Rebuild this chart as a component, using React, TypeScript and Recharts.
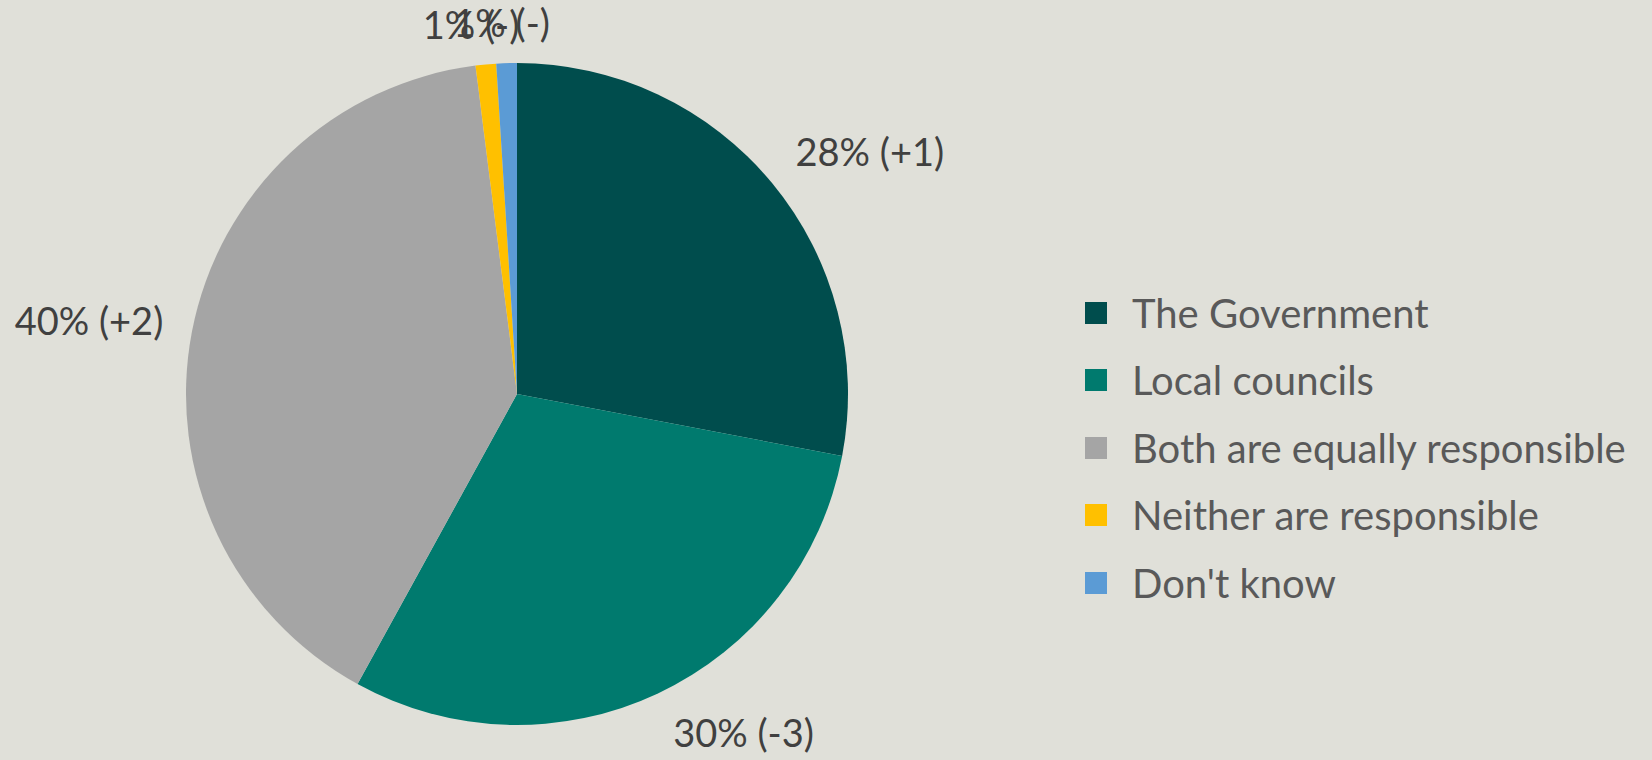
import React from 'react';
import { PieChart, Pie, Cell, Legend } from 'recharts';

const categories = ['The Government', 'Local councils', 'Both are equally responsible', 'Neither are responsible', "Don't know"];
const shares = [28, 30, 40, 1, 1];
const changes = ['+1', '-3', '+2', '-', '-'];
const colors = ['#004D4D', '#007A6E', '#A5A5A5', '#FFC000', '#5B9BD5'];

const data = categories.map((name, i) => ({ name, value: shares[i], change: changes[i] }));

const FONT = 'Lato, "Noto Sans", sans-serif';
const FONT_SIZE = 38;
const LEGEND_FONT_SIZE = 40;
const RAD = Math.PI / 180;

let ctx: CanvasRenderingContext2D | null = null;
const textWidth = (s: string) => {
    if (!ctx) ctx = document.createElement('canvas').getContext('2d');
    if (!ctx) return s.length * FONT_SIZE * 0.5;
    ctx.font = `${FONT_SIZE}px ${FONT}`;
    return ctx.measureText(s).width;
};

// best-fit style: label box sits just outside the slice along its mid angle
const renderLabel = (props: any) => {
    const { cx, cy, midAngle, outerRadius, index } = props;
    const text = `${shares[index]}% (${changes[index]})`;
    const ux = Math.cos(-midAngle * RAD);
    const uy = Math.sin(-midAngle * RAD);
    const r = outerRadius + 24;
    const px = cx + r * ux;
    const py = cy + r * uy;
    const w = textWidth(text);
    const h = 34;
    const f = Math.sign(ux) * Math.min(1, 2.5 * Math.abs(ux));
    const g = Math.sign(uy) * Math.min(1, 2.5 * Math.abs(uy));
    return (
        <text
            key={`lbl-${index}`}
            x={px + f * (w / 2 + 5)}
            y={py + (g * h) / 2}
            textAnchor="middle"
            dominantBaseline="central"
            fill="#404040"
            style={{ fontFamily: FONT, fontSize: FONT_SIZE }}
        >
            {text}
        </text>
    );
};

const renderLegend = () => (
    <ul style={{ listStyle: 'none', margin: 0, padding: 0 }}>
        {categories.map((name, i) => (
            <li key={name} style={{ display: 'flex', alignItems: 'center', height: 67.5 }}>
                <span style={{ width: 22, height: 22, background: colors[i], marginRight: 25, flex: 'none' }} />
                <span style={{ fontFamily: FONT, fontSize: LEGEND_FONT_SIZE, color: '#595959', whiteSpace: 'nowrap' }}>{name}</span>
            </li>
        ))}
    </ul>
);

export default function App() {
    return (
        <div style={{ position: 'absolute', left: 0, top: 0, width: 1652, height: 760, background: '#E0E0D9', overflow: 'hidden' }}>
            <PieChart width={1652} height={760} margin={{ top: 0, right: 0, bottom: 0, left: 0 }}>
                <Pie
                    data={data}
                    dataKey="value"
                    nameKey="name"
                    cx={517}
                    cy={394}
                    outerRadius={331}
                    startAngle={90}
                    endAngle={-270}
                    stroke="none"
                    label={renderLabel}
                    labelLine={false}
                    isAnimationActive={false}
                >
                    {data.map((d, i) => (
                        <Cell key={d.name} fill={colors[i]} />
                    ))}
                </Pie>
                <Legend
                    layout="vertical"
                    align="right"
                    verticalAlign="top"
                    content={renderLegend}
                    wrapperStyle={{ left: 1085, top: 279, right: 'auto' }}
                />
            </PieChart>
        </div>
    );
}
